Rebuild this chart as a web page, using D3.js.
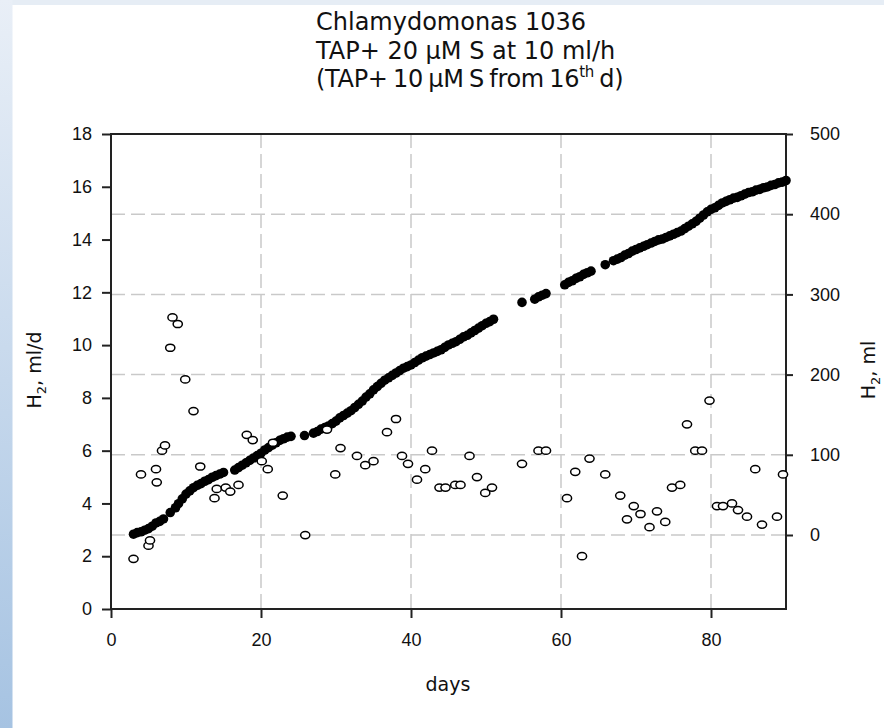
<!DOCTYPE html>
<meta charset="utf-8"/>
<title>Chlamydomonas 1036</title>
<script src="https://d3js.org/d3.v7.min.js"></script>
<style>
  body { margin: 0; background: #fff; }
  svg { display: block; font-family: 'DejaVu Sans', sans-serif; }
  .axis text { font-size: 18px; fill: #111; }
  .axis line { stroke: #222; stroke-width: 2; }
  .grid line { stroke: #c9c9c9; stroke-width: 1.5; stroke-dasharray: 14 6; }
  .frame line { stroke: #222; stroke-width: 2; }
</style>
<svg width=884 height=728></svg>
<script>
  // daily H2 (ml/d), left axis
  const daily = [
    [3,1.9],[4,5.1],[5,2.4],[5.2,2.6],[6,5.3],[6.1,4.8],[6.8,6.0],[7.2,6.2],[7.9,9.9],[8.2,11.05],
    [8.9,10.8],[9.9,8.7],[11,7.5],[11.9,5.4],[13.8,4.2],[14.1,4.55],[15.3,4.6],[15.9,4.45],[17,4.7],
    [18.1,6.6],[18.9,6.4],[20.1,5.6],[20.9,5.3],[21.6,6.3],[22.9,4.3],[25.9,2.8],[28.8,6.8],[29.9,5.1],
    [30.6,6.1],[32.8,5.8],[33.9,5.45],[35,5.6],[36.8,6.7],[38,7.2],[38.8,5.8],[39.6,5.5],[40.8,4.9],
    [41.9,5.3],[42.8,6.0],[43.8,4.6],[44.6,4.6],[45.9,4.7],[46.6,4.7],[47.8,5.8],[48.8,5.0],[49.9,4.4],
    [50.8,4.6],[54.8,5.5],[57,6.0],[58,6.0],[60.8,4.2],[61.9,5.2],[62.8,2.0],[63.8,5.7],[65.9,5.1],
    [67.9,4.3],[68.8,3.4],[69.7,3.9],[70.6,3.6],[71.8,3.1],[72.8,3.7],[73.9,3.3],[74.8,4.6],[75.9,4.7],
    [76.8,7.0],[77.9,6.0],[78.8,6.0],[79.8,7.9],[80.8,3.9],[81.6,3.9],[82.8,4.0],[83.6,3.75],[84.8,3.5],
    [85.9,5.3],[86.8,3.2],[88.8,3.5],[89.6,5.1]
  ];

  // cumulative H2 (ml), right axis
  const cumulative = [
    [3,1],[3.5,3],[4,4],[4.5,6],[5,8],[5.5,11],[6,15],[6.5,17],[7,20],
    [7.9,28],
    [8.6,34],[9,39],[9.5,45],[10,51],[10.5,55],[11,59],[11.5,62],[12,64],[12.5,67],[13,69],[13.5,72],
    [14,74],[14.5,76],[15,78],
    [16.5,81],[17,84],[17.5,87],[18,90],[18.5,93],[19,96],[19.5,99],[20,102],[20.5,106],[21,109],
    [21.5,112],[22,115],[22.5,118],[23,120],[23.5,122],[24,123],
    [25.8,124],
    [27,127],[27.5,129],[28,132],[28.5,134],[29,136],[29.5,139],[30,142],[30.5,146],[31,149],[31.5,152],
    [32,155],[32.5,159],[33,163],[33.5,167],[34,172],[34.5,176],[35,181],[35.5,185],[36,189],[36.5,193],
    [37,196],[37.5,199],[38,202],[38.5,205],[39,208],[39.5,210],[40,212],[40.5,215],[41,218],[41.5,221],
    [42,223],[42.5,225],[43,227],[43.5,229],[44,231],[44.5,234],[45,237],[45.5,239],[46,241],[46.5,244],
    [47,247],[47.5,249],[48,252],[48.5,255],[49,258],[49.5,261],[50,264],[50.5,266],[51,269],
    [54.8,290],
    [56.5,294],[57,297],[57.5,299],[58,301],
    [60.5,312],[61,315],[61.5,317],[62,320],[62.5,322],[63,325],[63.5,327],[64,329],
    [65.9,337],
    [67,342],[67.5,344],[68,346],[68.5,349],[69,351],[69.5,354],[70,356],[70.5,358],[71,360],[71.5,362],
    [72,364],[72.5,366],[73,368],[73.5,369],[74,371],[74.5,373],[75,375],[75.5,377],[76,379],[76.5,382],
    [77,385],[77.5,388],[78,391],[78.5,395],[79,399],[79.5,403],[80,406],[80.5,408],[81,411],[81.5,414],
    [82,416],[82.5,418],[83,420],[83.5,421],[84,423],[84.5,425],[85,427],[85.5,428],[86,430],[86.5,431],
    [87,433],[87.5,434],[88,436],[88.5,437],[89,439],[89.5,440],[90,442]
  ];

  const xTicks = [0, 20, 40, 60, 80];
  const leftTicks = [0, 2, 4, 6, 8, 10, 12, 14, 16, 18];
  const rightTicks = [0, 100, 200, 300, 400, 500];
  const titleLines = ["Chlamydomonas 1036", "TAP+ 20 \u00b5M S at 10 ml/h"];

  const svg = d3.select("svg");

  // page background: pale frame on top and left
  const grad = svg.append("defs").append("linearGradient")
    .attr("id", "edge").attr("x1", 0).attr("y1", 0).attr("x2", 0).attr("y2", 1);
  grad.append("stop").attr("offset", "0%").attr("stop-color", "#e9eff7");
  grad.append("stop").attr("offset", "100%").attr("stop-color", "#a6c3e2");
  svg.append("rect").attr("width", 884).attr("height", 5).attr("fill", "#e6edf5");
  svg.append("rect").attr("width", 12.5).attr("height", 728).attr("fill", "url(#edge)");

  const x = d3.scaleLinear().domain([0, 90]).range([111, 786]);
  const yL = d3.scaleLinear().domain([0, 18]).range([609, 134]);
  const yR = d3.scaleLinear().domain([0, 500]).range([535, 134]);

  // grid
  const grid = svg.append("g").attr("class", "grid");
  grid.selectAll(".h").data(rightTicks.slice(0, -1)).join("line")
    .attr("x1", 111).attr("x2", 786)
    .attr("y1", d => yR(d)).attr("y2", d => yR(d));
  grid.selectAll(".v").data(xTicks.slice(1)).join("line")
    .attr("class", "v")
    .attr("y1", 134).attr("y2", 609)
    .attr("x1", d => x(d)).attr("x2", d => x(d));

  // axes
  svg.append("g").attr("class", "axis")
    .attr("transform", "translate(0,609)")
    .call(d3.axisBottom(x).tickValues(xTicks).tickSize(9).tickPadding(15))
    .call(g => g.select(".domain").remove());
  svg.append("g").attr("class", "axis")
    .attr("transform", "translate(111,0)")
    .call(d3.axisLeft(yL).tickValues(leftTicks).tickSize(9).tickPadding(10))
    .call(g => g.select(".domain").remove());
  svg.append("g").attr("class", "axis")
    .attr("transform", "translate(786,0)")
    .call(d3.axisRight(yR).tickValues(rightTicks).tickSize(7).tickPadding(17))
    .call(g => g.select(".domain").remove());

  const frame = svg.append("g").attr("class", "frame");
  frame.append("line").attr("x1", 110).attr("x2", 787).attr("y1", 134).attr("y2", 134);
  frame.append("line").attr("x1", 110).attr("x2", 787).attr("y1", 609).attr("y2", 609);
  frame.append("line").attr("x1", 111).attr("x2", 111).attr("y1", 133).attr("y2", 610);
  frame.append("line").attr("x1", 786).attr("x2", 786).attr("y1", 133).attr("y2", 610);

  // cumulative H2: filled dots
  svg.append("g").selectAll("circle").data(cumulative).join("circle")
    .attr("cx", d => x(d[0])).attr("cy", d => yR(d[1]))
    .attr("r", 4.8).attr("fill", "#000");

  // daily H2: open circles
  svg.append("g").selectAll("ellipse").data(daily).join("ellipse")
    .attr("cx", d => x(d[0])).attr("cy", d => yL(d[1]))
    .attr("rx", 4.6).attr("ry", 3.6)
    .attr("fill", "#fff").attr("stroke", "#000").attr("stroke-width", 1.5);

  // title
  const title = svg.append("g").style("font-size", "24px").attr("fill", "#111");
  title.selectAll("text.l").data(titleLines).join("text")
    .attr("class", "l").attr("x", 316).attr("y", (d, i) => 30 + i * 28.5).text(d => d);
  const t3 = title.append("text").attr("x", 316).attr("y", 87)
    .style("word-spacing", "-2px").style("letter-spacing", "-0.3px");
  t3.append("tspan").text("(TAP+ 10 \u00b5M S from 16");
  t3.append("tspan").attr("dy", -10).style("font-size", "15px").text("th");
  t3.append("tspan").attr("dy", 10).text(" d)");

  // axis titles
  svg.append("text").attr("x", 448).attr("y", 691).attr("text-anchor", "middle")
    .style("font-size", "19px").attr("fill", "#111").text("days");

  const yl = svg.append("text").attr("transform", "translate(41,370) rotate(-90)")
    .attr("text-anchor", "middle").style("font-size", "19px").attr("fill", "#111");
  yl.append("tspan").text("H");
  yl.append("tspan").attr("dy", 5).style("font-size", "13px").text("2");
  yl.append("tspan").attr("dy", -5).text(", ml/d");

  const yr = svg.append("text").attr("transform", "translate(875,370) rotate(-90)")
    .attr("text-anchor", "middle").style("font-size", "19px").attr("fill", "#111");
  yr.append("tspan").text("H");
  yr.append("tspan").attr("dy", 5).style("font-size", "13px").text("2");
  yr.append("tspan").attr("dy", -5).text(", ml");
</script>
